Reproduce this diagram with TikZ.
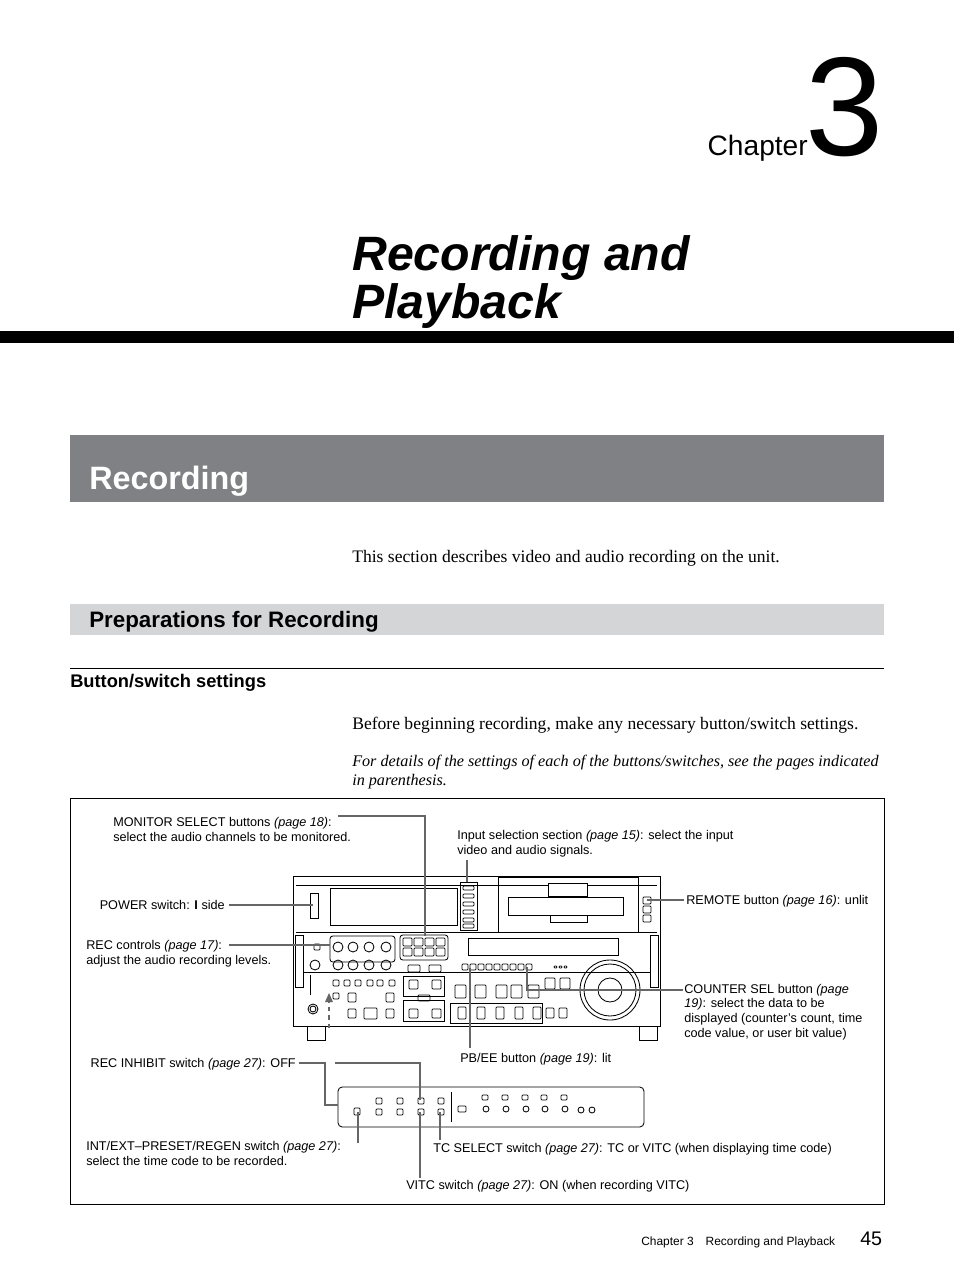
\documentclass[tikz,border=0pt]{standalone}
\usepackage{fontspec}
\setmainfont{Liberation Serif}
\setsansfont{Liberation Sans}
\usepackage{tikz}
\tikzset{
  leader/.style={draw=black!60, line width=1.1pt},
  dev/.style={draw=black, line width=0.6pt},
  lbl/.style={font=\sffamily\fontsize{9}{10.4}\selectfont, inner sep=0pt, anchor=base west, align=left},
  btn/.style={draw=black, line width=0.5pt, rounded corners=0.6pt},
}
\newcommand{\pg}[1]{\textit{(page #1)}}
\begin{document}
\begin{tikzpicture}[x=0.25mm, y=-0.25mm]
\useasboundingbox (0,0) rectangle (954,1274);
% chapter head
\node[inner sep=0pt, anchor=base east, font=\sffamily\fontsize{20}{20}\selectfont] (chap) at (808,155) {Chapter};
\node[inner sep=0pt, anchor=base west, font=\sffamily\fontsize{100}{100}\selectfont] (num) at (805,155) {3};
\node[inner sep=0pt, anchor=base west, font=\sffamily\bfseries\itshape\fontsize{34.3}{35}\selectfont] (tit1) at (352,270) {Recording and};
\node[inner sep=0pt, anchor=base west, font=\sffamily\bfseries\itshape\fontsize{34.3}{35}\selectfont] (tit2) at (352,318) {Playback};
\fill (0,331) rectangle (954,343);
% section heads
\fill[fill={rgb,255:red,128;green,129;blue,133}] (70,435) rectangle (884,502);
\node[inner sep=0pt, anchor=base west, text=white, font=\sffamily\bfseries\fontsize{23}{23}\selectfont] (sec) at (89,489) {Recording};
\node[inner sep=0pt, anchor=base west, font=\fontsize{12.5}{14}\selectfont] (intro) at (352,562) {This section describes video and audio recording on the unit.};
\fill[fill={rgb,255:red,212;green,213;blue,215}] (70,604) rectangle (884,635);
\node[inner sep=0pt, anchor=base west, font=\sffamily\bfseries\fontsize{15.9}{16}\selectfont] (sub) at (89,627) {Preparations for Recording};
\draw[line width=0.5pt] (70,668) -- (884,668);
\node[inner sep=0pt, anchor=base west, font=\sffamily\bfseries\fontsize{13}{13}\selectfont] (subsub) at (70,687) {Button/switch settings};
\node[inner sep=0pt, anchor=base west, font=\fontsize{12.5}{14}\selectfont] (p1) at (352,729) {Before beginning recording, make any necessary button/switch settings.};
\node[inner sep=0pt, anchor=base west, font=\itshape\fontsize{11.5}{14}\selectfont] (p2) at (352,766) {For details of the settings of each of the buttons/switches, see the pages indicated};
\node[inner sep=0pt, anchor=base west, font=\itshape\fontsize{11.5}{14}\selectfont] (p3) at (352,785) {in parenthesis.};
% figure frame
\draw[line width=0.5pt] (70,798) rectangle (884,1204);
% ---- unit, top part
\draw[dev] (293,876) rectangle (660,1026);
\draw[dev] (296,885) -- (657,885);
\draw[dev] (296,932) -- (657,932);
\draw[dev] (330,888) rectangle (457,925);
\draw[dev] (460,882) rectangle (477,930);
\foreach \y in {886,894,902,910,918,924} \draw[btn] (463,\y) rectangle (474,\y+4);
\draw[dev] (498,877) rectangle (638,932);
\draw[dev] (508,897) rectangle (623,915);
\draw[dev, fill=white] (548,883) rectangle (587,896);
\draw[dev, fill=white] (550,915) rectangle (587,922);
\draw[dev] (310,893) rectangle (318,918);
\foreach \y in {897,906,915} \draw[btn] (643,\y) rectangle (651,\y+7);
% ---- unit, lower part
\draw[dev] (295,935) rectangle (303,987);
\draw[dev] (650,935) rectangle (658,987);
\draw[dev] (303,972) -- (650,972);
\draw[dev, rounded corners=2pt] (330,936) rectangle (395,962);
\foreach \x in {338,353,369,386} {
  \draw[dev] (\x,947) circle (5);
  \draw[dev] (\x,965) circle (5);
}
\draw[dev] (315,965) circle (5);
\draw[btn] (314,944) rectangle (320,950);
\draw[dev, rounded corners=2pt] (400,935) rectangle (448,960);
\foreach \x in {403,414,425,436} {
  \draw[btn] (\x,938) rectangle (\x+9,946);
  \draw[btn] (\x,948) rectangle (\x+9,956);
}
\draw[btn] (408,965) rectangle (420,972);
\draw[btn] (429,965) rectangle (441,972);
\draw[dev] (468,938) rectangle (618,955);
\foreach \x in {462,470,478,486,494,502,510,518,526} \draw[btn] (\x,964) rectangle (\x+6,970);
\foreach \x in {554,559,564} \draw[btn] (\x,966) rectangle (\x+3,968);
\draw[dev] (610,990) circle (30);
\draw[dev] (610,990) circle (26);
\draw[dev] (610,990) circle (12);
\draw[dev] (310,975) -- (310,995);
\draw[dev] (313,1009) circle (5);
\draw[dev] (313,1009) circle (3);
\draw[leader, dashed] (329,1028) -- (329,1000);
\fill[black!60] (325,1002) -- (329,993) -- (333,1002) -- cycle;
\foreach \x in {333,344,355,367,377,389} \draw[btn] (\x,980) rectangle (\x+6,986);
\draw[btn] (333,993) rectangle (339,999);
\draw[btn] (348,993) rectangle (356,1002);
\draw[btn] (386,993) rectangle (394,1002);
\draw[btn] (348,1009) rectangle (356,1018);
\draw[btn] (364,1008) rectangle (377,1019);
\draw[btn] (386,1009) rectangle (394,1018);
\draw[dev] (403,976) rectangle (444,996);
\draw[dev] (403,1000) rectangle (444,1021);
\draw[btn] (409,980) rectangle (418,989);
\draw[btn] (432,980) rectangle (441,989);
\draw[btn] (409,1009) rectangle (418,1018);
\draw[btn] (432,1009) rectangle (441,1018);
\draw[btn] (418,995) rectangle (430,1001);
\foreach \x in {455,475,496,511,528} \draw[btn] (\x,985) rectangle (\x+11,998);
\draw[dev] (450,1003) rectangle (542,1023);
\foreach \x in {458,477,496,515,533} \draw[btn] (\x,1007) rectangle (\x+8,1019);
\foreach \x in {546,559} \draw[btn] (\x,1008) rectangle (\x+8,1018);
\draw[btn] (545,978) rectangle (555,989);
\draw[btn] (560,978) rectangle (570,989);
\draw[dev] (307,1026) rectangle (325,1040);
\draw[dev] (639,1026) rectangle (657,1040);
% ---- sub-panel
\draw[dev, rounded corners=3pt] (338,1087) rectangle (644,1127);
\draw[dev] (451,1092) -- (451,1122);
\foreach \x in {376,397,418,438} {
  \draw[btn] (\x,1098) rectangle (\x+6,1104);
  \draw[btn] (\x,1109) rectangle (\x+6,1115);
}
\draw[btn] (354,1108) rectangle (360,1115);
\draw[btn] (458,1106) rectangle (466,1112);
\foreach \x in {486,506,526,545,565} {
  \draw[btn] (\x-4,1095) rectangle (\x+2,1100);
  \draw[dev] (\x,1109) circle (3);
}
\draw[dev] (581,1110) circle (3);
\draw[dev] (592,1110) circle (3);
% ---- labels
\node[lbl] (monsel) at (113,841) {MONITOR SELECT buttons \pg{18}:\\select the audio channels to be monitored.};
\node[lbl] (inputsel) at (457,854) {Input selection section \pg{15}: select the input\\video and audio signals.};
\node[lbl, anchor=base east] (power) at (225,909) {POWER switch: \textbf{I} side};
\node[lbl] (recctl) at (86,964) {REC controls \pg{17}:\\adjust the audio recording levels.};
\node[lbl] (remote) at (686,904) {REMOTE button \pg{16}: unlit};
\node[lbl] (counter) at (684,1037) {COUNTER SEL button \textit{(page}\\\textit{19)}: select the data to be\\displayed (counter's count, time\\code value, or user bit value)};
\node[lbl, anchor=base east] (inhibit) at (296,1067) {REC INHIBIT switch \pg{27}: OFF};
\node[lbl] (pbee) at (460,1062) {PB/EE button \pg{19}: lit};
\node[lbl] (intext) at (86,1165) {INT/EXT--PRESET/REGEN switch \pg{27}:\\select the time code to be recorded.};
\node[lbl] (tcsel) at (433,1152) {TC SELECT switch \pg{27}: TC or VITC (when displaying time code)};
\node[lbl] (vitc) at (406,1189) {VITC switch \pg{27}: ON (when recording VITC)};
% ---- leaders
\draw[leader] (338,816) -- (425,816) -- (425,936);
\draw[leader] (467,860) -- (467,882);
\draw[leader] (229,905) -- (313,905);
\draw[leader] (229,945) -- (330,945);
\draw[leader] (647,900) -- (684,900);
\draw[leader] (527,967) -- (527,990) -- (683,990);
\draw[leader] (470,968) -- (470,1048);
\draw[leader] (299,1063) -- (325,1063) -- (325,1105) -- (338,1105);
\draw[leader] (335,1063) -- (420,1063) -- (420,1100);
\draw[leader] (358,1112) -- (358,1143);
\draw[leader] (420,1112) -- (420,1178);
\draw[leader] (440,1112) -- (440,1140);
% footer
\node[inner sep=0pt, anchor=base west, font=\sffamily\fontsize{8.5}{10}\selectfont] (foot) at (641,1245) {Chapter 3\quad Recording and Playback};
\node[inner sep=0pt, anchor=base west, font=\sffamily\fontsize{14}{14}\selectfont] (page) at (860,1245) {45};
\end{tikzpicture}
\end{document}
